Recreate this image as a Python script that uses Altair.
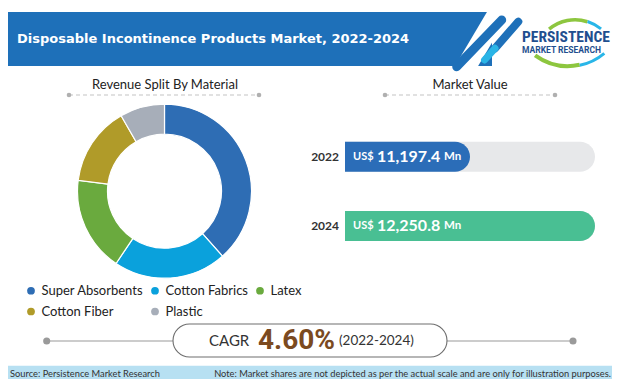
import altair as alt
import pandas as pd
import math

# ---------------- data ----------------
materials = ["Super Absorbents", "Cotton Fabrics", "Latex", "Cotton Fiber", "Plastic"]
shares = [38.4, 21.0, 17.6, 14.7, 8.3]
material_colors = ["#2e6db4", "#0aa1dc", "#6aaa3e", "#b09b29", "#a7aeb9"]

years = ["2022", "2024"]
values = [11197.4, 12250.8]
bar_colors = ["#2b6db8", "#49bf93"]

cagr = [0.046]
cagr_period = ["(2022-2024)"]

title = "Disposable Incontinence Products Market, 2022-2024"
source = "Source: Persistence Market Research"
note = "Note: Market shares are not depicted as per the actual scale and are only for illustration purposes."

donut_df = pd.DataFrame({"material": materials, "share": shares, "order": list(range(len(materials)))})
bars_df = pd.DataFrame({"year": years, "value": values})
cagr_df = pd.DataFrame({"cagr": cagr, "period": cagr_period})
one = pd.DataFrame({"k": [0]})

# ---------------- layout helpers ----------------
W, H = 604, 371            # fits the 620x387 window inside the 8px page margin


def P(v):                  # page position -> chart position
    return v - 8


BLUE = "#1e70b9"
FONT = "Lato"

base = alt.Chart(one)


def txt(s, x, y, size, color, weight="normal", font=FONT, align="left"):
    return base.mark_text(text=s, fontSize=size, color=color, fontWeight=weight,
                          font=font, align=align, baseline="middle").encode(
        x=alt.value(P(x)), y=alt.value(P(y)))


def rule(x, y, x2, y2, color, width, cap="round", dash=None):
    kw = dict(color=color, strokeWidth=width, strokeCap=cap)
    if dash:
        kw["strokeDash"] = dash
    return base.mark_rule(**kw).encode(x=alt.value(P(x)), y=alt.value(P(y)),
                                       x2=alt.value(P(x2)), y2=alt.value(P(y2)))


def dot(x, y, r, color):
    return base.mark_circle(size=math.pi * r ** 2, color=color, opacity=1).encode(
        x=alt.value(P(x)), y=alt.value(P(y)))


def arc(cx, cy, r1, r2, t1, t2, color):
    return base.mark_arc(color=color).encode(
        x=alt.value(P(cx)), y=alt.value(P(cy)), theta=alt.value(t1), theta2=alt.value(t2),
        radius=alt.value(r1), radius2=alt.value(r2))


def rect(x, y, x2, y2, **kw):
    return base.mark_rect(**kw).encode(x=alt.value(P(x)), x2=alt.value(P(x2)),
                                       y=alt.value(P(y)), y2=alt.value(P(y2)))


layers = []

# ---------------- header ----------------
layers.append(rect(8, 12, 492, 66, color=BLUE))
layers.append(rule(504.5, 2, 463, 72, "white", 20, cap="butt"))
layers.append(rule(501.7, 20, 456.7, 66.7, BLUE, 9))
layers.append(rule(518.3, 21.7, 495, 48.3, BLUE, 8))
layers.append(rule(495, 48.3, 484.5, 60, "#2ab4e6", 7))
layers.append(txt(title, 17, 39, 13, "white", weight="bold", font="DejaVu Sans"))

# logo
d = math.pi / 180
layers.append(arc(575, 60, 42, 38.5, 320 * d, 378 * d, "#8dc63f"))
layers.append(arc(575, 60, 42, 39, 378 * d, 400 * d, "#29b6e8"))
layers.append(arc(568, 10, 58, 54, 168 * d, 216 * d, "#8dc63f"))
layers.append(arc(568, 10, 58, 55, 140 * d, 168 * d, "#29b6e8"))
layers.append(txt("PERSISTENCE", 522, 36.5, 15.5, "#1f4f8f", weight="bold",
                  font="Liberation Sans Narrow, Roboto Condensed, Roboto"))
layers.append(txt("MARKET RESEARCH", 522, 50, 8.5, "#1f4f8f", weight="bold", font="Roboto"))

# ---------------- section titles ----------------
layers.append(txt("Revenue Split By Material", 165, 85, 13, "#222", align="center"))
layers.append(rule(69, 95, 259, 95, "#c4c4c4", 1.2, cap="butt", dash=[4, 3]))
layers.append(dot(69, 95, 2.6, "#b0b0b0"))
layers.append(dot(259, 95, 2.6, "#b0b0b0"))

layers.append(txt("Market Value", 470, 85, 13, "#222", align="center"))
layers.append(rule(385, 95, 555, 95, "#c4c4c4", 1.2, cap="butt", dash=[4, 3]))
layers.append(dot(385, 95, 2.6, "#b0b0b0"))
layers.append(dot(555, 95, 2.6, "#b0b0b0"))

# ---------------- donut ----------------
donut = alt.Chart(donut_df).mark_arc(outerRadius=87, innerRadius=57, stroke="white",
                                      strokeWidth=1.2).encode(
    x=alt.value(P(164.5)), y=alt.value(P(191.2)),
    theta=alt.Theta("share:Q", stack=True),
    order=alt.Order("order:Q"),
    color=alt.Color("material:N",
                    scale=alt.Scale(domain=materials, range=material_colors),
                    legend=alt.Legend(orient="none", legendX=P(24.5), legendY=P(284), title=None,
                                      direction="horizontal",
                                      columns=3, symbolType="circle", symbolSize=60,
                                      symbolStrokeWidth=0, labelFont=FONT, labelFontSize=13,
                                      labelColor="#222", columnPadding=5, rowPadding=7,
                                      labelOffset=4, padding=0)),
)
layers.append(donut)

# ---------------- bars ----------------
yscale = alt.Scale(domain=years, range=[P(141.7), P(241)], paddingInner=0.567, paddingOuter=0)
ybar = alt.Y("year:N", scale=yscale, axis=None)
R = 15

track = alt.Chart(bars_df).mark_rect(color="#e7e8ea", cornerRadiusTopRight=R,
                                     cornerRadiusBottomRight=R).encode(
    y=ybar, x=alt.value(P(345)), x2=alt.value(P(595)))
bars = alt.Chart(bars_df).mark_rect(cornerRadiusTopRight=R, cornerRadiusBottomRight=R).encode(
    y=ybar,
    x=alt.X("value:Q", scale=alt.Scale(domain=[10144.0, 12250.8], range=[P(345), P(595)],
                                       zero=False), axis=None),
    x2=alt.value(P(345)),
    color=alt.Color("year:N", scale=alt.Scale(domain=years, range=bar_colors), legend=None),
)
bt = alt.Chart(bars_df)
us = bt.mark_text(text="US$", fontSize=11, fontWeight="bold", color="white", font=FONT,
                  align="left", baseline="middle").encode(y=ybar, x=alt.value(P(353)))
num = bt.mark_text(fontSize=16, fontWeight="bold", color="white", font=FONT,
                   align="left", baseline="middle").encode(
    y=ybar, x=alt.value(P(377)), text=alt.Text("value:Q", format=",.1f"))
mn = bt.mark_text(text="Mn", fontSize=11.5, fontWeight="bold", color="white", font=FONT,
                  align="left", baseline="middle").encode(y=ybar, x=alt.value(P(444)))
yl = bt.mark_text(fontSize=12, fontWeight="bold", color="#333", font=FONT,
                  align="right", baseline="middle").encode(
    y=ybar, x=alt.value(P(339)), text="year:N")
layers += [track, bars, us, num, mn, yl]

# ---------------- CAGR ----------------
layers.append(rule(46.7, 341, 173, 341, "#9a9a9a", 1.2, cap="butt"))
layers.append(rule(447, 341, 573, 341, "#9a9a9a", 1.2, cap="butt"))
layers.append(dot(46.7, 341, 4, "#9a9a9a"))
layers.append(dot(573, 341, 4, "#9a9a9a"))
layers.append(rect(173, 324, 447, 357, fill="white", stroke="#6e6e6e", strokeWidth=1.1,
                   cornerRadius=16.5))
layers.append(txt("CAGR", 209, 341, 15, "#333"))
cg = alt.Chart(cagr_df)
layers.append(cg.mark_text(fontSize=28, fontWeight="bold", color="#7b4a1f", font="Roboto",
                           align="left", baseline="middle").encode(
    x=alt.value(P(258)), y=alt.value(P(341)), text=alt.Text("cagr:Q", format=".2%")))
layers.append(cg.mark_text(fontSize=13.5, color="#333", font=FONT, align="left",
                           baseline="middle").encode(
    x=alt.value(P(339)), y=alt.value(P(341)), text="period:N"))

# ---------------- footer ----------------
layers.append(rect(8, 365.7, 612, 379, color="#b7e0f2"))
layers.append(txt(source, 10, 373.5, 9.3, "#333"))
layers.append(txt(note, 611, 373.5, 9.3, "#333", align="right"))

chart = alt.layer(*layers).resolve_scale(color="independent").properties(
    width=W, height=H, autosize="none", padding=0, background="white"
).configure_view(stroke=None)

chart.save("out.html", embed_options={"renderer": "svg", "actions": False})
